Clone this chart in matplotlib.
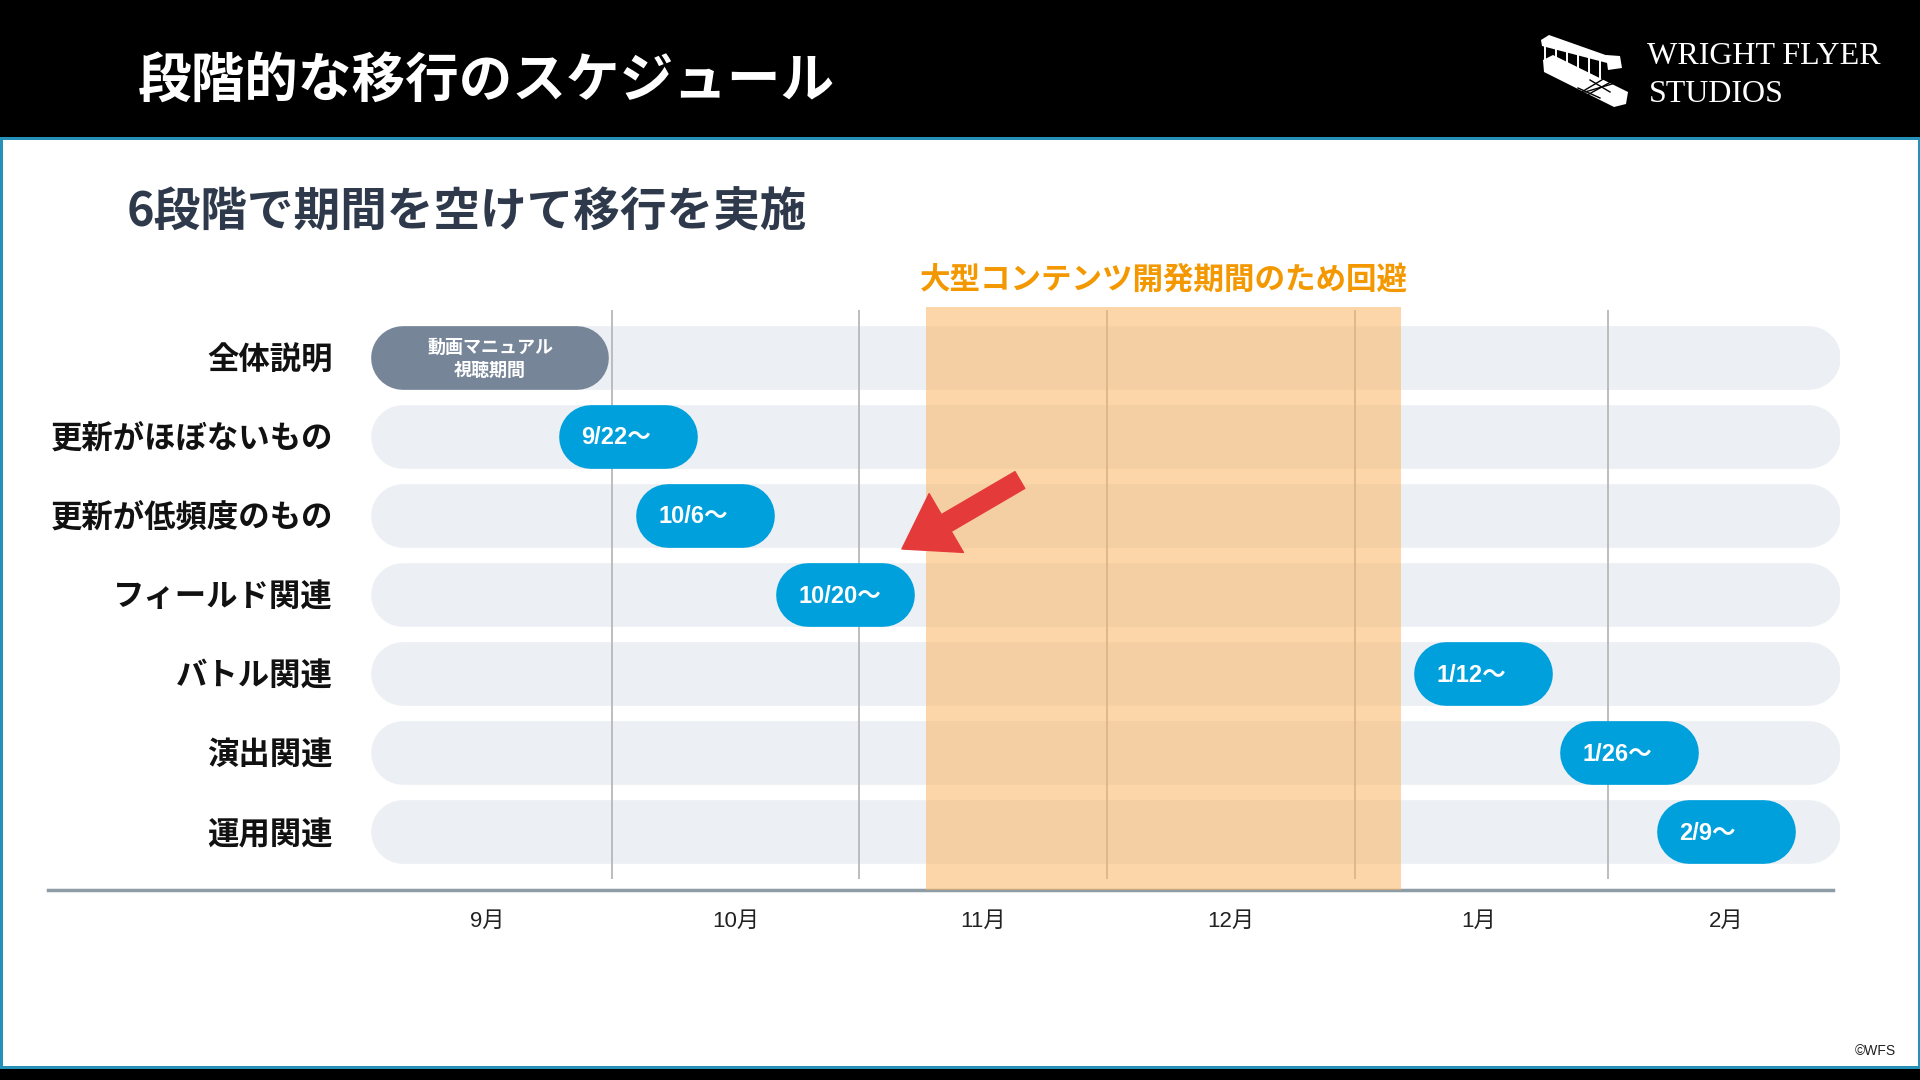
import matplotlib
matplotlib.use('Agg')
import matplotlib.pyplot as plt
from matplotlib.patches import Rectangle, Polygon, FancyArrowPatch

JP = ['Noto Sans CJK JP', 'DejaVu Sans']
LAT = ['Liberation Sans', 'Noto Sans CJK JP', 'DejaVu Sans']
plt.rcParams['font.family'] = JP

# ---------------- data ----------------
title = '段階的な移行のスケジュール'
subtitle = '6段階で期間を空けて移行を実施'
band_label = '大型コンテンツ開発期間のため回避'
rows = ['全体説明', '更新がほぼないもの', '更新が低頻度のもの', 'フィールド関連',
        'バトル関連', '演出関連', '運用関連']
months = ['9月', '10月', '11月', '12月', '1月', '2月']
# positions are in months counted from the start of September
track_start, track_end = 0.03, 5.96
intro_start, intro_end = 0.03, 0.99
intro_label = '動画マニュアル\n視聴期間'
step_labels = ['9/22〜', '10/6〜', '10/20〜', '1/12〜', '1/26〜', '2/9〜']
step_starts = [0.79, 1.10, 1.665, 4.24, 4.83, 5.22]
step_width = 0.56
band_start, band_end = 2.27, 4.185
month_bounds = [1, 2, 3, 4, 5.02]

# ---------------- colours ----------------
C_TRACK = '#ECF0F4'
C_GRAY = '#778598'
C_BLUE = '#00A0DC'
C_BAND = '#FBB461'
C_ORANGE = '#F39800'
C_TEAL = '#2590B8'

W, H = 1920, 1080
fig = plt.figure(figsize=(19.2, 10.8), dpi=100)
fig.patch.set_facecolor('white')

# background / decoration layer in pixel coordinates
bg = fig.add_axes([0, 0, 1, 1], zorder=0)
bg.set_xlim(0, W)
bg.set_ylim(H, 0)
bg.axis('off')

bg.add_patch(Rectangle((0, 0), W, 137, fc='black', ec='none'))
bg.add_patch(Rectangle((0, 137), W, 3, fc=C_TEAL, ec='none'))
bg.add_patch(Rectangle((0, 1069), W, 11, fc='black', ec='none'))
bg.add_patch(Rectangle((0, 1066), W, 3, fc=C_TEAL, ec='none'))
bg.add_patch(Rectangle((0, 140), 2.5, 926, fc=C_TEAL, ec='none'))
bg.add_patch(Rectangle((W - 2.5, 140), 2.5, 926, fc=C_TEAL, ec='none'))

bg.text(138, 82, title, color='white', fontsize=38.6, fontweight='bold',
        va='center', ha='left')
bg.text(127, 213, subtitle, color='#2E3A4B', fontsize=33.6, fontweight='bold',
        va='center', ha='left')

# logo: simplified biplane + wordmark
bg.add_patch(Polygon([(1543, 60), (1553, 55), (1628, 92), (1626, 104), (1614, 107), (1544, 72)],
                     closed=True, fc='white', ec='none'))
bg.add_patch(Polygon([(1541, 40), (1549, 35), (1614, 58), (1611, 64), (1542, 46)],
                     closed=True, fc='white', ec='none'))
bg.add_patch(Polygon([(1606, 55), (1620, 56), (1622, 68), (1608, 70)],
                     closed=True, fc='white', ec='none'))
for sx in [1545, 1556, 1567, 1578, 1589, 1600]:
    top = 41 + (sx - 1541) * 0.33
    bg.plot([sx, sx], [top, top + 20], color='white', lw=1.4)
for (x1, y1, x2, y2) in [(1575, 96, 1615, 72), (1580, 99, 1618, 78), (1585, 92, 1612, 84),
                         (1578, 88, 1600, 98), (1590, 80, 1610, 92)]:
    bg.plot([x1, x2], [y1, y2], color='black', lw=1.0)
bg.text(1647, 56, 'WRIGHT FLYER', color='white', fontsize=23,
        family=['Liberation Serif', 'DejaVu Serif'], va='center', ha='left')
bg.text(1649, 94, 'STUDIOS', color='white', fontsize=23,
        family=['Liberation Serif', 'DejaVu Serif'], va='center', ha='left')

bg.text(1896, 1051, '©WFS', ha='right', va='center', fontsize=10, family=LAT, color='#222222')

# ---------------- gantt axes ----------------
px0, ppm = 363.7, 247.8      # pixel of month 0, pixels per month
py0, ppr = 357.6, 79.08      # pixel of row 0 centre, pixels per row
L, R, T, B = 47.8, 1840.4, 307.4, 890.2
ax = fig.add_axes([L / W, 1 - B / H, (R - L) / W, (B - T) / H], zorder=1)
ax.patch.set_alpha(0)
ax.set_xlim((L - px0) / ppm, (R - px0) / ppm)
ax.set_ylim((B - py0) / ppr, (T - py0) / ppr)

bar_px = 63.7                      # pill thickness in pixels
bar_pt = bar_px * 72 / 100         # as a line width in points
cap = bar_px / 2 / ppm             # round cap length in months
txt_dy = 0.04                      # small optical shift for CJK labels


def pill(x0, x1, y, color, z):
    ax.plot([x0 + cap, x1 - cap], [y, y], color=color, lw=bar_pt,
            solid_capstyle='round', zorder=z)


for i, name in enumerate(rows):
    pill(track_start, track_end, i, C_TRACK, 1)
    ax.text(-0.124, i + txt_dy, name, ha='right', va='center', fontsize=22.6,
            fontweight='bold', color='#111111')

ax.vlines(month_bounds, (309.8 - py0) / ppr, (879.2 - py0) / ppr,
          color='#B8B8B8', lw=1.3, zorder=2)
ax.axvspan(band_start, band_end, color=C_BAND, alpha=0.55, lw=0, zorder=3)
ax.text((band_start + band_end) / 2, (280 - py0) / ppr, band_label, ha='center',
        va='center', fontsize=22, fontweight='bold', color=C_ORANGE, clip_on=False)

pill(intro_start, intro_end, 0, C_GRAY, 4)
ax.text((intro_start + intro_end) / 2, 0.02, intro_label, ha='center', va='center',
        fontsize=13, fontweight='bold', color='white', linespacing=1.3, zorder=5)

for i, (lab, s) in enumerate(zip(step_labels, step_starts), start=1):
    pill(s, s + step_width, i, C_BLUE, 4)
    ax.text(s + 0.088, i + 0.015, lab, ha='left', va='center', fontsize=17,
            fontweight='bold', color='white', family=LAT, zorder=5)

arrow = FancyArrowPatch(posA=(2.648, 1.548), posB=(2.172, 2.42),
                        arrowstyle='simple,head_length=37,head_width=49,tail_width=14',
                        mutation_scale=1, color='#E53A3A', shrinkA=0, shrinkB=0, zorder=6)
ax.add_patch(arrow)

for s in ['top', 'left', 'right']:
    ax.spines[s].set_visible(False)
ax.spines['bottom'].set_color('#8E9CA6')
ax.spines['bottom'].set_linewidth(2.5)
ax.spines['bottom'].set_bounds((L - px0) / ppm, (1833 - px0) / ppm)
ax.set_yticks([])
ax.set_xticks([m + 0.5 for m in range(len(months))])
ax.set_xticklabels(months, fontsize=16, color='#222222')
for t in ax.get_xticklabels():
    t.set_fontfamily(LAT)
ax.tick_params(axis='x', length=0, pad=15)

fig.savefig('out.png', dpi=100, facecolor='white')
